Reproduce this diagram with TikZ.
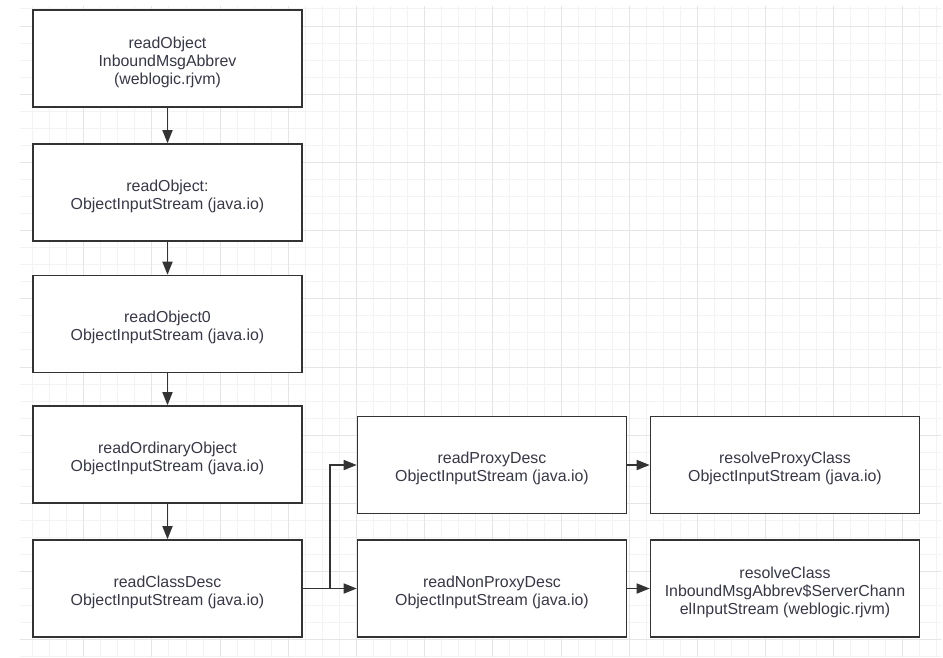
\documentclass[tikz,border=0pt]{standalone}
\usepackage{fontspec}
\setmainfont{Liberation Sans}
\usepackage{xcolor}
\usetikzlibrary{arrows.meta}
\definecolor{gridminor}{RGB}{243,243,243}
\definecolor{gridmajor}{RGB}{229,229,229}
\definecolor{boxline}{RGB}{51,51,51}
\definecolor{boxtext}{RGB}{55,55,72}
\newcommand{\calltext}[1]{\raisebox{-4pt}[\height][\depth]{\setlength{\tabcolsep}{0pt}\begin{tabular}{c}#1\end{tabular}}}

\begin{document}
\begin{tikzpicture}[x=1pt,y=-1pt,
  callbox/.style={draw=boxline,line width=1.6pt,fill=white,minimum width=269pt,
    minimum height=97pt,inner sep=0pt,text=boxtext,
    font=\fontsize{15.9}{18}\selectfont},
  flow/.style={draw=boxline,line width=1.6pt,-{Triangle[length=13pt,width=10pt]}}]
  \useasboundingbox (0,0) rectangle (943,657);
  % background grid
  \begin{scope}
    \clip (20,6) rectangle (941,657);
    \foreach \k in {0,...,54}
      \draw[gridminor,line width=1pt] (15.5+17.05*\k,0) -- ++(0,657);
    \foreach \k in {0,...,38}
      \draw[gridminor,line width=1pt] (0,8.95+17.05*\k) -- ++(943,0);
    \foreach \k in {0,...,13}
      \draw[gridmajor,line width=1pt] (15.5+68.2*\k,0) -- ++(0,657);
    \foreach \k in {0,...,9}
      \draw[gridmajor,line width=1pt] (0,26+68.2*\k) -- ++(943,0);
  \end{scope}
  % call chain
  \node[callbox] (inbound) at (167.5,58.5) {\calltext{readObject\\InboundMsgAbbrev\\(weblogic.rjvm)}};
  \node[callbox] (readobj) at (167.5,192.5) {\calltext{readObject:\\ObjectInputStream (java.io)}};
  \node[callbox] (readobjzero) at (167.5,324) {\calltext{readObject0\\ObjectInputStream (java.io)}};
  \node[callbox] (ordinary) at (167.5,454.5) {\calltext{readOrdinaryObject\\ObjectInputStream (java.io)}};
  \node[callbox] (classdesc) at (167.5,588.5) {\calltext{readClassDesc\\ObjectInputStream (java.io)}};
  \node[callbox] (proxydesc) at (492,465) {\calltext{readProxyDesc\\ObjectInputStream (java.io)}};
  \node[callbox] (nonproxy) at (492,588.5) {\calltext{readNonProxyDesc\\ObjectInputStream (java.io)}};
  \node[callbox] (proxyclass) at (785,465) {\calltext{resolveProxyClass\\ObjectInputStream (java.io)}};
  \node[callbox] (resolve) at (785,588.5) {\calltext{resolveClass\\InboundMsgAbbrev\$ServerChann\\elInputStream (weblogic.rjvm)}};
  \coordinate (split) at (330,588.5);
  % arrows
  \draw[flow] (inbound) -- (readobj);
  \draw[flow] (readobj) -- (readobjzero);
  \draw[flow] (readobjzero) -- (ordinary);
  \draw[flow] (ordinary) -- (classdesc);
  \draw[draw=boxline,line width=1.6pt] (classdesc.east) -- (split);
  \draw[flow] (split) |- (proxydesc.west);
  \draw[flow] (split) -- (nonproxy.west);
  \draw[flow] (proxydesc) -- (proxyclass);
  \draw[flow] (nonproxy) -- (resolve);
\end{tikzpicture}
\end{document}
